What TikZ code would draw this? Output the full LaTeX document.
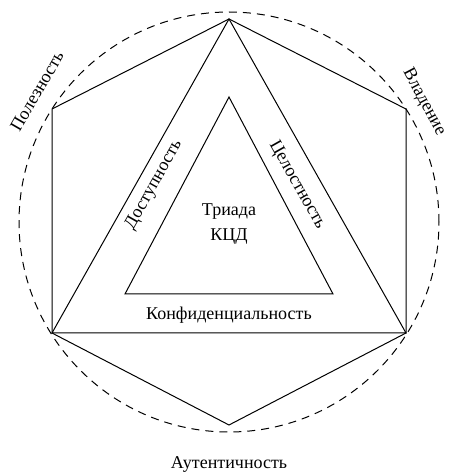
\documentclass[tikz,border=0pt]{standalone}
\usepackage{fontspec}
\setmainfont{Liberation Serif}
\usetikzlibrary{calc,positioning}

\begin{document}
\begin{tikzpicture}[x=1pt,y=1pt,line width=1pt,
    lbl/.style={font=\fontsize{18}{20}\selectfont,inner sep=0pt}]
  \useasboundingbox (0,0) rectangle (450,475);
  \coordinate (T) at (229,456);
  \coordinate (UL) at (52,366);
  \coordinate (UR) at (406,366);
  \coordinate (LL) at (52,142);
  \coordinate (LR) at (406,142);
  \coordinate (B) at (229,50);
  \coordinate (C) at (229,253);
  \draw[dash pattern=on 8pt off 6pt] (C) circle (210);
  \draw (T)--(UR)--(LR)--(B)--(LL)--(UL)--cycle;
  \draw (T)--(LR)--(LL)--cycle;
  \coordinate (iT) at (229,378);
  \coordinate (iL) at (125,181);
  \coordinate (iR) at (333,181);
  \draw (iT)--(iR)--(iL)--cycle;
  \node[lbl] (triad) at (229,263) {Триада};
  \node[lbl] (kcd) at (229,238) {КЦД};
  \node[lbl] (conf) at (229,160) {Конфиденциальность};
  \node[lbl,rotate=60.6] (avail) at (154,290) {Доступность};
  \node[lbl,rotate=-60.6] (integ) at (297,290) {Целостность};
  \node[lbl,rotate=60] (util) at (37,384) {Полезность};
  \node[lbl,rotate=-62] (poss) at (424,373) {Владение};
  \node[lbl] (auth) at (229,10) {Аутентичность};
\end{tikzpicture}
\end{document}
